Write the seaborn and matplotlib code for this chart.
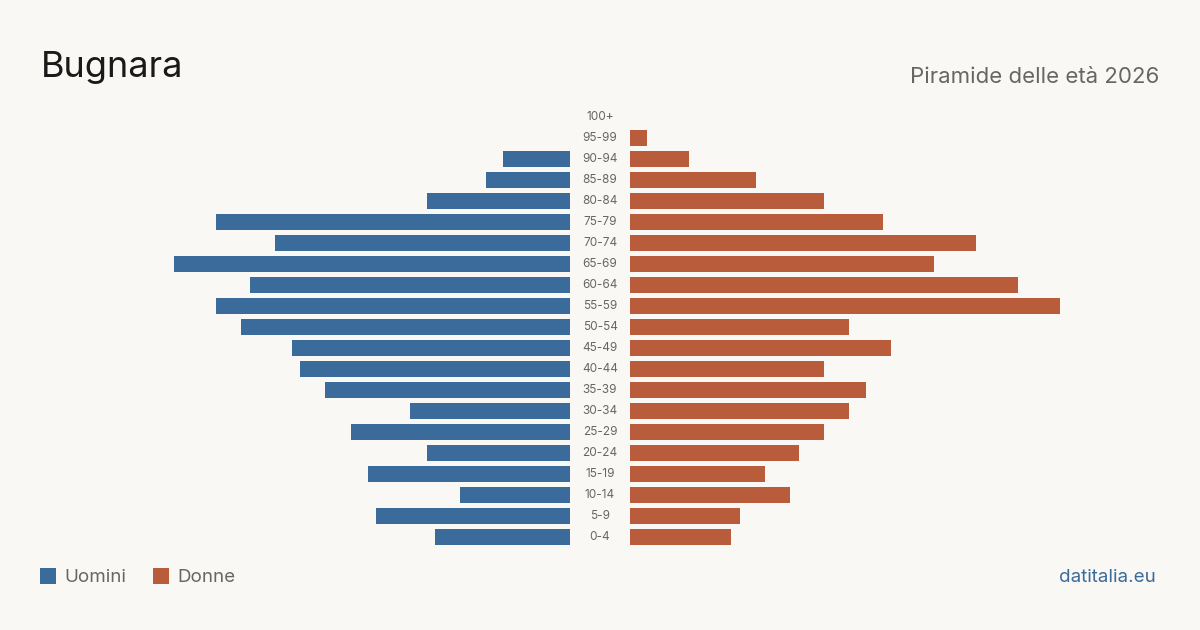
import matplotlib
matplotlib.use("Agg")
import matplotlib.pyplot as plt
import matplotlib.patches as mpatches
import seaborn as sns
import pandas as pd

# ---- data ----
age_groups = ["100+", "95-99", "90-94", "85-89", "80-84", "75-79", "70-74", "65-69",
              "60-64", "55-59", "50-54", "45-49", "40-44", "35-39", "30-34", "25-29",
              "20-24", "15-19", "10-14", "5-9", "0-4"]
men = [0, 0, 8, 10, 17, 42, 35, 47, 38, 42, 39, 33, 32, 29, 19, 26, 17, 24, 13, 23, 16]
women = [0, 2, 7, 15, 23, 30, 41, 36, 46, 51, 26, 31, 23, 28, 26, 23, 20, 16, 19, 13, 12]
title = "Bugnara"
subtitle = "Piramide delle età 2026"
legend_labels = ["Uomini", "Donne"]
source = "datitalia.eu"

BLUE = "#3b6b9b"
ORANGE = "#b95c3c"
BG = "#f9f8f4"

sns.set_theme(style="white")
plt.rcParams["font.family"] = ["Inter", "DejaVu Sans"]

df = pd.DataFrame({"age": age_groups, "men": men, "women": women})

W, H = 1200, 630
fig = plt.figure(figsize=(12, 6.3), dpi=100, facecolor=BG)

xmax = max(max(men), max(women))
top_px, bottom_px = 106.5, 547.5
ax_b = (H - bottom_px) / H
ax_h = (bottom_px - top_px) / H
ax_l = fig.add_axes([140 / W, ax_b, 430 / W, ax_h])
ax_r = fig.add_axes([630 / W, ax_b, 430 / W, ax_h])

sns.barplot(data=df, y="age", x="men", order=age_groups, color=BLUE, width=0.8,
            saturation=1, ax=ax_l, edgecolor="none")
sns.barplot(data=df, y="age", x="women", order=age_groups, color=ORANGE, width=0.8,
            saturation=1, ax=ax_r, edgecolor="none")

ax_l.set_xlim(xmax, 0)
ax_r.set_xlim(0, xmax)
for ax in (ax_l, ax_r):
    ax.set_ylim(len(age_groups) - 0.5, -0.5)
    ax.set_facecolor("none")
    ax.axis("off")

# center labels
for i, lab in enumerate(age_groups):
    y_px = top_px + 10.5 + 21 * i
    fig.text(600 / W, 1 - y_px / H, lab, ha="center", va="center",
             fontsize=8.5, color="#666666")

fig.text(41 / W, 1 - 67 / H, title, ha="left", va="center", fontsize=26, color="#1a1a1a")
fig.text(1159 / W, 1 - 77 / H, subtitle, ha="right", va="center", fontsize=16, color="#666666")

# legend
fig.patches.append(mpatches.Rectangle((40 / W, 1 - 584 / H), 16 / W, 16 / H,
                                      transform=fig.transFigure, facecolor=BLUE,
                                      edgecolor="none"))
fig.text(64 / W, 1 - 577 / H, legend_labels[0], ha="left", va="center", fontsize=13.5, color="#666666")
fig.patches.append(mpatches.Rectangle((153 / W, 1 - 584 / H), 16 / W, 16 / H,
                                      transform=fig.transFigure, facecolor=ORANGE,
                                      edgecolor="none"))
fig.text(177 / W, 1 - 577 / H, legend_labels[1], ha="left", va="center", fontsize=13.5, color="#666666")

fig.text(1156 / W, 1 - 577 / H, source, ha="right", va="center", fontsize=13.5, color=BLUE)

fig.savefig("out.png", dpi=100, facecolor=BG)
